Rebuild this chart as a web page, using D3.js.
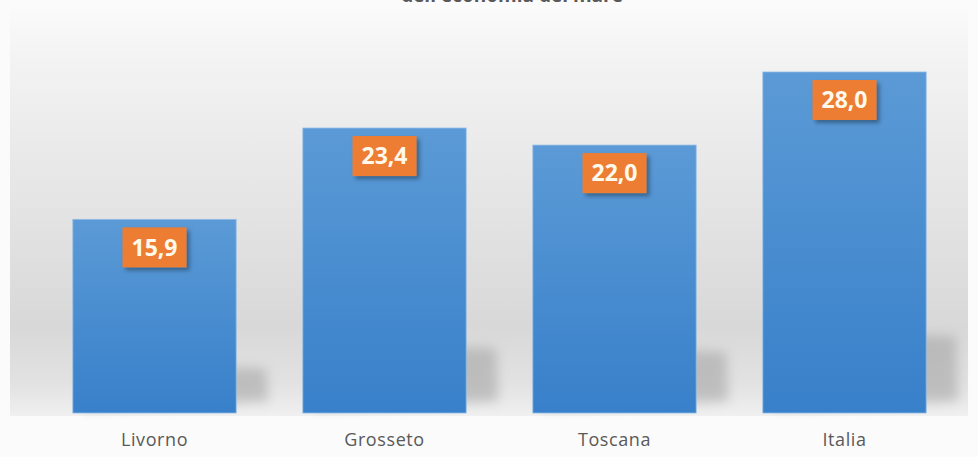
<!DOCTYPE html>
<html>
<head>
<meta charset="utf-8">
<script src="https://cdn.jsdelivr.net/npm/d3@7"></script>
<style>
  body { margin: 0; background: #fbfbfb; }
  svg { display: block; }
</style>
</head>
<body>
<div id="wrapper"></div>
<script>
// data
const categories = ["Livorno", "Grosseto", "Toscana", "Italia"]
const values = [15.9, 23.4, 22.0, 28.0]
const titleText = "dell'economia del mare"

async function drawBars() {

  const dataset = categories.map((c, i) => ({ name: c, value: values[i] }))
  const xAccessor = d => d.name
  const yAccessor = d => d.value
  const formatValue = d => d3.format(".1f")(d).replace(".", ",")

  // dimensions
  let dimensions = {
    width: 978,
    height: 457,
    baseline: 413,
  }

  const wrapper = d3.select("#wrapper")
    .append("svg")
    .attr("width", dimensions.width)
    .attr("height", dimensions.height)

  const defs = wrapper.append("defs")

  const bgGrad = defs.append("linearGradient")
      .attr("id", "bg")
      .attr("x1", 0).attr("y1", 0).attr("x2", 0).attr("y2", 1)
  bgGrad.append("stop").attr("offset", "0%").attr("stop-color", "#fafafa")
  bgGrad.append("stop").attr("offset", "12%").attr("stop-color", "#f3f3f3")
  bgGrad.append("stop").attr("offset", "78%").attr("stop-color", "#d8d8d8")
  bgGrad.append("stop").attr("offset", "92%").attr("stop-color", "#e2e2e2")
  bgGrad.append("stop").attr("offset", "100%").attr("stop-color", "#f0f0f0")

  const barGrad = defs.append("linearGradient")
      .attr("id", "barFill")
      .attr("x1", 0).attr("y1", 0).attr("x2", 0).attr("y2", 1)
  barGrad.append("stop").attr("offset", "0%").attr("stop-color", "#5b9ad6")
  barGrad.append("stop").attr("offset", "100%").attr("stop-color", "#3880ca")

  defs.append("filter")
      .attr("id", "blur")
      .attr("x", "-50%").attr("y", "-50%").attr("width", "200%").attr("height", "200%")
    .append("feGaussianBlur")
      .attr("stdDeviation", 6)

  const dropShadow = defs.append("filter")
      .attr("id", "boxShadow")
      .attr("x", "-30%").attr("y", "-30%").attr("width", "160%").attr("height", "160%")
  dropShadow.append("feDropShadow")
      .attr("dx", 3).attr("dy", 3)
      .attr("stdDeviation", 2)
      .attr("flood-color", "#000")
      .attr("flood-opacity", 0.35)

  // plot area background
  wrapper.append("rect")
      .attr("x", 10)
      .attr("y", 10)
      .attr("width", dimensions.width - 20)
      .attr("height", dimensions.baseline + 3 - 10)
      .attr("fill", "url(#bg)")

  // scales
  const xScale = d3.scaleBand()
    .domain(dataset.map(xAccessor))
    .range([39.5, 959.5])
    .paddingInner(0.29)
    .paddingOuter(0.145)

  const yScale = d3.scaleLinear()
    .domain([0, 28])
    .range([dimensions.baseline, 72])

  const bw = xScale.bandwidth()

  // bar shadows
  wrapper.append("g")
    .selectAll("path")
    .data(dataset)
    .join("path")
      .attr("d", d => {
        const x0 = xScale(xAccessor(d))
        const h = dimensions.baseline - yScale(yAccessor(d))
        const top = dimensions.baseline - 0.22 * h - 8
        const bot = dimensions.baseline - 12
        return `M${x0 + 10},${top} L${x0 + bw + 30},${top + 6} L${x0 + bw + 32},${bot} L${x0 + 10},${bot + 8} Z`
      })
      .attr("fill", "#a0a0a0")
      .attr("opacity", 0.55)
      .attr("filter", "url(#blur)")

  // bars
  wrapper.append("g")
    .selectAll("rect")
    .data(dataset)
    .join("rect")
      .attr("x", d => xScale(xAccessor(d)))
      .attr("y", d => yScale(yAccessor(d)))
      .attr("width", bw)
      .attr("height", d => dimensions.baseline - yScale(yAccessor(d)))
      .attr("fill", "url(#barFill)")
      .attr("stroke", "#8fbbe6")
      .attr("stroke-width", 0.8)

  // value labels
  const labels = wrapper.append("g")
    .selectAll("g")
    .data(dataset)
    .join("g")
      .attr("transform", d => `translate(${xScale(xAccessor(d)) + bw / 2}, ${yScale(yAccessor(d)) + 28})`)

  labels.append("rect")
      .attr("x", -32)
      .attr("y", -20)
      .attr("width", 64)
      .attr("height", 40)
      .attr("fill", "#ed7d31")
      .attr("filter", "url(#boxShadow)")

  labels.append("text")
      .attr("text-anchor", "middle")
      .attr("dy", "0.36em")
      .attr("font-family", "'Open Sans', sans-serif")
      .attr("font-weight", "bold")
      .attr("font-size", 23)
      .attr("fill", "#fff9ec")
      .text(d => formatValue(yAccessor(d)))

  // x axis
  const xAxisGenerator = d3.axisBottom()
    .scale(xScale)
    .tickSize(0)
    .tickPadding(20)

  const xAxis = wrapper.append("g")
    .call(xAxisGenerator)
      .attr("transform", `translate(0, ${dimensions.baseline})`)

  xAxis.select(".domain").remove()
  xAxis.selectAll("text")
      .attr("font-family", "'Open Sans', sans-serif")
      .attr("font-size", 18)
      .attr("fill", "#595959")
      .attr("letter-spacing", 0.6)

  // title (cut off at top, as in the original)
  wrapper.append("text")
      .attr("x", 512)
      .attr("y", 2)
      .attr("text-anchor", "middle")
      .attr("font-family", "'Open Sans', sans-serif")
      .attr("font-weight", "bold")
      .attr("font-size", 19)
      .attr("fill", "#595959")
      .text(titleText)
}
drawBars()
</script>
</body>
</html>
